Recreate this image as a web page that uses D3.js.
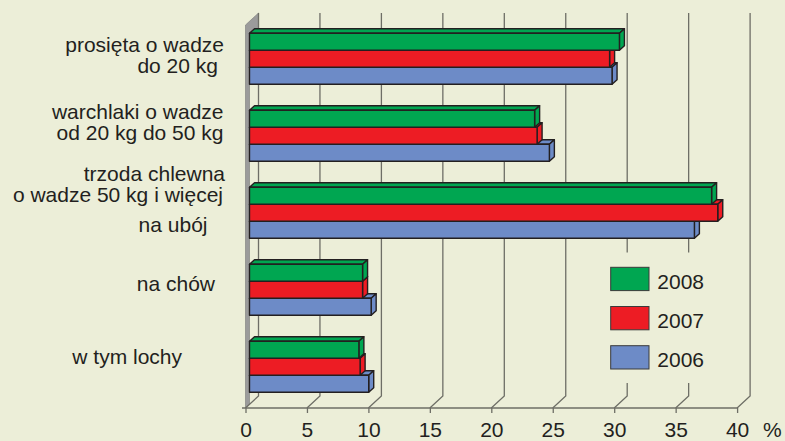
<!DOCTYPE html>
<html>
<head>
<meta charset="utf-8">
<script src="https://cdn.jsdelivr.net/npm/d3@7"></script>
<style>
  body { margin: 0; background: #eceed8; }
  text { font-family: "Liberation Sans", Arial, sans-serif; fill: #231f20; }
</style>
</head>
<body>
<div id="chart"></div>
<script>
// data (percent)
var categories = ["prosieta", "warchlaki", "uboj", "chow", "lochy"];
var labelLines = [
  ["prosięta o wadze", "do 20 kg"],
  ["warchlaki o wadze", "od 20 kg do 50 kg"],
  ["trzoda chlewna", "o wadze 50 kg i więcej", "na ubój"],
  ["na chów"],
  ["w tym lochy"]
];
var seriesNames = ["2008", "2007", "2006"];
var values2008 = [30.1, 23.2, 37.6, 9.2, 8.9];
var values2007 = [29.3, 23.4, 38.1, 9.2, 9.0];
var values2006 = [29.5, 24.4, 36.2, 9.9, 9.7];
var tickValues = [0, 5, 10, 15, 20, 25, 30, 35, 40];

var seriesValues = { "2008": values2008, "2007": values2007, "2006": values2006 };
var colors = { "2008": "#00a651", "2007": "#ed1c24", "2006": "#6d8bc7" };

// label placement (baseline offset from band top, right edge x) - hand placed like the original
var labelPos = [
  [[19, 224], [40, 218]],
  [[8.7, 223.5], [29.7, 223.5]],
  [[-6.6, 225], [14.4, 223], [44.4, 207.5]],
  [[26.7, 215]],
  [[23, 182]]
];

var width = 785, height = 441;
var floorY = 408, backDX = 13, backDY = 12, gridTop = 13;
var barDX = 5, barDY = 4.5, barInset = 4;

var svg = d3.select("#chart").append("svg")
  .attr("width", width)
  .attr("height", height);

svg.append("rect")
  .attr("width", width).attr("height", height)
  .attr("fill", "#eceed8");

var x = d3.scaleLinear().domain([0, 40]).range([245.5, 737.1]);

var y = d3.scaleBand()
  .domain(categories)
  .range([33.3, 392.3])
  .paddingInner(26 / 77)
  .paddingOuter(0);

var ySub = d3.scaleBand()
  .domain(seriesNames)
  .range([0, y.bandwidth()]);

// side wall
svg.append("path")
  .attr("d", "M" + x(0) + "," + floorY +
    " L" + x(0) + ",25" +
    " L" + (x(0) + backDX) + "," + gridTop +
    " L" + (x(0) + backDX) + ",28" +
    " L" + (x(0) + barInset) + ",32" +
    " L" + (x(0) + barInset) + ",404" + " Z")
  .attr("fill", "#9b9b9b")
  .attr("stroke", "#7a7a7a")
  .attr("stroke-width", 0.6);

// back gridlines with floor diagonals
svg.append("g")
  .selectAll("path")
  .data(tickValues)
  .enter().append("path")
  .attr("d", function (d) {
    return "M" + (x(d) + backDX) + "," + gridTop +
      " V" + (floorY - backDY) +
      " L" + x(d) + "," + floorY;
  })
  .attr("fill", "none")
  .attr("stroke", "#6e6e66")
  .attr("stroke-width", 1.3);

// legend area hides the gridlines behind it
svg.append("rect")
  .attr("x", 596).attr("y", 252.5)
  .attr("width", 145).attr("height", 130.5)
  .attr("fill", "#eceed8");

// axis line + ticks + labels
var axis = svg.append("g")
  .attr("transform", "translate(0," + floorY + ")")
  .call(d3.axisBottom(x)
    .tickValues(tickValues)
    .tickSize(5)
    .tickSizeOuter(0)
    .tickPadding(8.7));
axis.select(".domain").remove();
axis.selectAll(".tick line").attr("stroke", "#6e6e66").attr("stroke-width", 1.3);
axis.selectAll(".tick text")
  .attr("font-size", 21)
  .attr("font-family", null)
  .attr("fill", "#231f20");
axis.append("line")
  .attr("x1", 242).attr("x2", x(40))
  .attr("y1", 0).attr("y2", 0)
  .attr("stroke", "#6e6e66").attr("stroke-width", 1.3);
svg.append("text")
  .attr("x", 763).attr("y", 436.5)
  .attr("font-size", 21)
  .text("%");

// 3d bars
var groups = svg.append("g")
  .selectAll("g")
  .data(categories)
  .enter().append("g")
  .attr("transform", function (d) { return "translate(0," + y(d) + ")"; });

var drawOrder = seriesNames.slice().reverse();
groups.each(function (cat, i) {
  var g = d3.select(this);
  drawOrder.forEach(function (s) {
    var v = seriesValues[s][i];
    var x0 = x(0) + barInset, x1 = x(v) + barInset;
    var t = ySub(s), b = ySub(s) + ySub.bandwidth();
    var bar = g.append("g")
      .attr("fill", colors[s])
      .attr("stroke", "#231f20")
      .attr("stroke-width", 1.4)
      .attr("stroke-linejoin", "round");
    // top face
    bar.append("path")
      .attr("d", "M" + x0 + "," + t + " L" + (x0 + barDX) + "," + (t - barDY) +
        " L" + (x1 + barDX) + "," + (t - barDY) + " L" + x1 + "," + t + " Z");
    // side face
    bar.append("path")
      .attr("d", "M" + x1 + "," + t + " L" + (x1 + barDX) + "," + (t - barDY) +
        " L" + (x1 + barDX) + "," + (b - barDY) + " L" + x1 + "," + b + " Z");
    // front face
    bar.append("rect")
      .attr("x", x0).attr("y", t)
      .attr("width", x1 - x0).attr("height", b - t);
  });
});

// category labels
groups.each(function (cat, i) {
  var g = d3.select(this);
  labelLines[i].forEach(function (line, j) {
    g.append("text")
      .attr("x", labelPos[i][j][1])
      .attr("y", labelPos[i][j][0])
      .attr("text-anchor", "end")
      .attr("font-size", 21)
      .text(line);
  });
});

// legend
var legend = svg.append("g")
  .selectAll("g")
  .data(seriesNames)
  .enter().append("g")
  .attr("transform", function (d, i) { return "translate(610.7," + (267.3 + i * 39.2) + ")"; });
legend.append("rect")
  .attr("width", 38.3).attr("height", 23.3)
  .attr("fill", function (d) { return colors[d]; })
  .attr("stroke", "#3a3a3a")
  .attr("stroke-width", 1);
legend.append("text")
  .attr("x", 46.6).attr("y", 21.7)
  .attr("font-size", 21)
  .text(function (d) { return d; });
</script>
</body>
</html>
